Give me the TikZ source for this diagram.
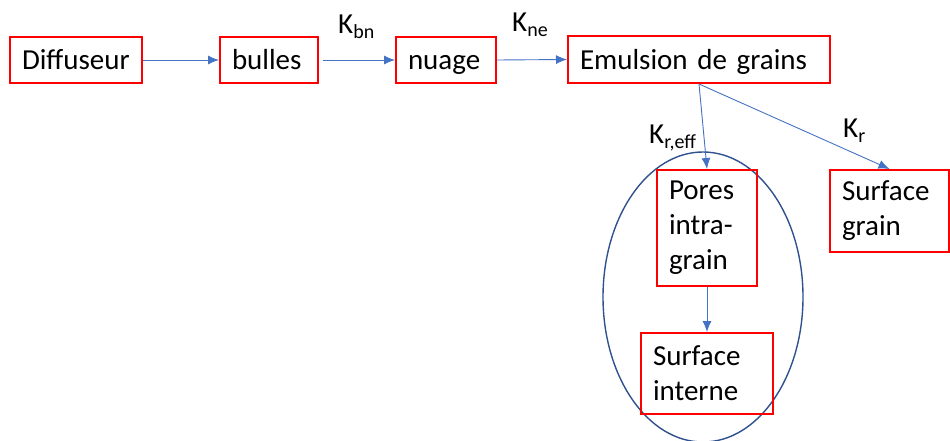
\documentclass[tikz,border=0pt]{standalone}
\usepackage{fontspec}
\setmainfont{Carlito}[WordSpace=0.5]
\usetikzlibrary{arrows.meta}
\definecolor{boxred}{HTML}{FF0000}
\definecolor{arrowblue}{HTML}{4472C4}
\definecolor{ellblue}{HTML}{2F528F}
\tikzset{
  box/.style={draw=boxred, line width=2pt, anchor=north west, align=left,
    inner xsep=12pt, inner ysep=0pt, font=\fontsize{29pt}{35pt}\selectfont},
  oneline/.style={text height=20pt, text depth=0pt},
  conn/.style={draw=arrowblue, line width=0.9pt, -{Latex[length=11pt,width=9pt]}},
  klabel/.style={anchor=base west, inner sep=0pt, font=\fontsize{29pt}{35pt}\selectfont}
}
\newcommand{\ksub}[1]{K\raisebox{-5pt}{\fontsize{20pt}{20pt}\selectfont #1}}
\begin{document}
\begin{tikzpicture}[x=1pt,y=-1pt]
\useasboundingbox (0,0) rectangle (950,441);
% ellipse
\draw[ellblue, line width=1.4pt] (703,297) ellipse [x radius=100, y radius=145];
% boxes
\node[box, oneline, text width=108pt, minimum height=46pt] (dif) at (9,36) {Diffuseur};
\node[box, oneline, text width=74pt, minimum height=46pt] (bul) at (219,36) {bulles};
\node[box, oneline, text width=76pt, minimum height=46pt] (nua) at (395,36) {nuage};
\node[box, oneline, text width=238pt, minimum height=47pt] (emu) at (567,35) {Emulsion de grains};
\node[box, text width=76pt, minimum height=116pt] (por) at (656,169) {Pores\\intra-\\grain};
\node[box, text width=95pt, minimum height=82pt] (sgr) at (829,169) {Surface\\grain};
\node[box, text width=108pt, minimum height=81pt] (si) at (640,332) {Surface\\interne};
% connectors
\draw[conn] (dif) -- (bul);
\draw[conn, shorten <=4pt] (bul) -- (nua);
\draw[conn] (nua.east) -- (emu.west);
\draw[conn] (emu.south) -- (por.north);
\draw[conn] (emu.south) -- (sgr.north);
\draw[conn] (por.south) -- (si.north);
% labels
\node[klabel] (kbn) at (338,34) {\ksub{bn}};
\node[klabel] (kne) at (512,32) {\ksub{ne}};
\node[klabel] (kreff) at (649,143) {\ksub{r,eff}};
\node[klabel] (kr) at (843,138) {\ksub{r}};
\end{tikzpicture}
\end{document}
